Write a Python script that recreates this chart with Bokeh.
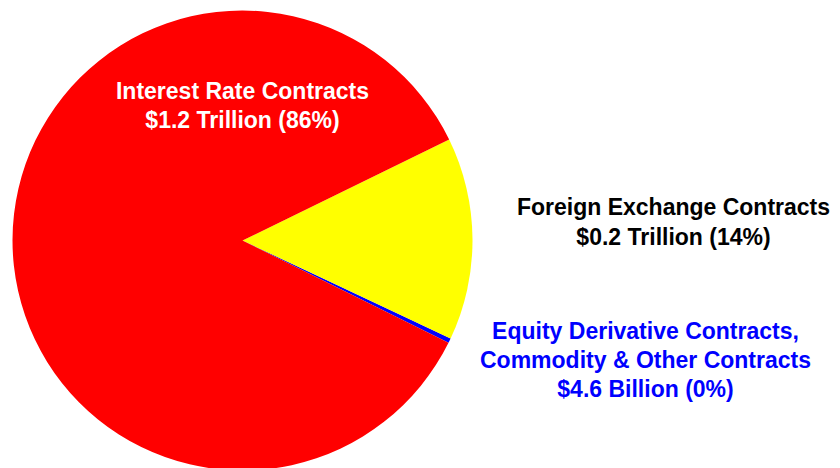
import math
from bokeh.plotting import figure
from bokeh.models import Range1d, ColumnDataSource
from bokeh.core.properties import value
from bokeh.embed import file_html
from bokeh.resources import INLINE

# ---- data ----
categories = ["Equity Derivative Contracts, Commodity & Other Contracts",
              "Foreign Exchange Contracts",
              "Interest Rate Contracts"]
values_trillion = [0.0046, 0.2, 1.2]
colors = ["#0000FF", "#FFFF00", "#FF0000"]

label_lines = [
    ["Equity Derivative Contracts,", "Commodity & Other Contracts", "$4.6 Billion (0%)"],
    ["Foreign Exchange Contracts", "$0.2 Trillion (14%)"],
    ["Interest Rate Contracts", "$1.2 Trillion (86%)"],
]
label_colors = ["#0000FF", "#000000", "#FFFFFF"]

# ---- layout ----
W, H = 840, 468
cx, cy, R = 242, 228, 230
start_offset = math.radians(-26.4)
label_anchor = [(645, 137.5, 28.8), (673, 261.5, 29.5), (242, 378, 29.5)]  # x, first baseline y, line step

total = sum(values_trillion)
starts, ends = [], []
acc = start_offset
for v in values_trillion:
    starts.append(acc)
    acc += 2 * math.pi * v / total
    ends.append(acc)

src = ColumnDataSource(dict(start=starts, end=ends, color=colors, cat=categories))

p = figure(width=W, height=H, output_backend="svg", toolbar_location=None,
           x_range=Range1d(0, W), y_range=Range1d(0, H), min_border=0)
p.axis.visible = False
p.grid.visible = False
p.outline_line_color = None
p.background_fill_color = "white"
p.border_fill_color = "white"

p.wedge(x=cx, y=cy, radius=R, start_angle="start", end_angle="end",
        fill_color="color", line_color=None, source=src)

tx, ty, tt, tc = [], [], [], []
for lines, col, (ax, ay, step) in zip(label_lines, label_colors, label_anchor):
    for i, ln in enumerate(lines):
        tx.append(ax)
        ty.append(ay - i * step)
        tt.append(ln)
        tc.append(col)

p.text(x=tx, y=ty, text=tt, text_color=tc, text_align="center",
       text_baseline="alphabetic", text_font=value("Liberation Sans"),
       text_font_style="bold", text_font_size="23px")

open("out.html", "w").write(file_html(p, INLINE))
